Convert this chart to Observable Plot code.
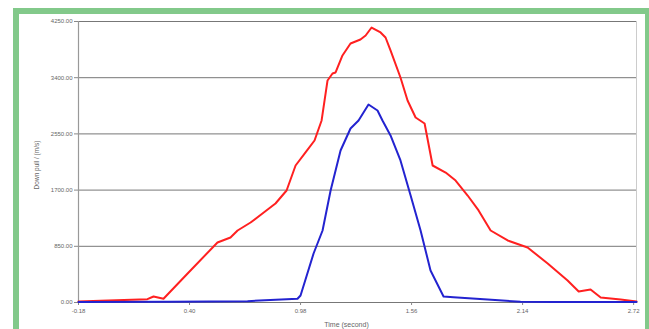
<!DOCTYPE html>
<html>
<head>
<meta charset="utf-8">
<script src="https://cdn.jsdelivr.net/npm/d3@7"></script>
<script src="https://cdn.jsdelivr.net/npm/@observablehq/plot@0.6"></script>
<style>
  html, body { margin: 0; padding: 0; background: #fff; }
  #wrap { position: relative; width: 649px; height: 329px; overflow: hidden; background: #fff; }
  #frame { position: absolute; left: 13px; top: 8px; width: 626px; height: 340px; border: 6px solid #82c98a; box-sizing: content-box; pointer-events: none; }
  #chart { position: absolute; left: 0; top: 0; }
</style>
</head>
<body>
<div id="wrap"><div id="chart"></div><div id="frame"></div></div>
<script>
const xTicks = [-0.18, 0.40, 0.98, 1.56, 2.14, 2.72];
const yTicks = [0, 850, 1700, 2550, 3400, 4250];

const redX = [-0.18,-0.065,0.18,0.212,0.264,0.39,0.546,0.614,0.651,0.719,0.781,0.849,0.907,0.954,1.006,1.053,1.090,1.121,1.147,1.163,1.199,1.241,1.293,1.320,1.351,1.398,1.424,1.450,1.502,1.539,1.581,1.628,1.670,1.738,1.790,1.853,1.910,1.973,2.062,2.166,2.271,2.375,2.433,2.495,2.548,2.652,2.735];
const redY = [15,25,50,91,56,439,908,983,1089,1210,1346,1497,1694,2072,2269,2450,2753,3358,3464,3479,3736,3917,3978,4038,4159,4084,4008,3812,3403,3055,2798,2707,2072,1966,1845,1618,1392,1089,938,832,590,333,166,197,76,45,15];

const blueX = [-0.18,0.30,0.703,0.964,0.980,1.048,1.095,1.137,1.189,1.241,1.283,1.335,1.382,1.408,1.450,1.502,1.555,1.607,1.659,1.727,1.779,1.957,2.129,2.302,2.735];
const blueY = [8,12,20,56,106,741,1089,1694,2299,2632,2753,2995,2904,2753,2526,2148,1618,1089,484,91,80,45,10,8,8];

const red = redX.map((x, i) => ({x, y: redY[i]}));
const blue = blueX.map((x, i) => ({x, y: blueY[i]}));

const chart = Plot.plot({
  width: 649,
  height: 329,
  marginLeft: 78,
  marginRight: 13,
  marginTop: 21,
  marginBottom: 27,
  style: { fontFamily: "Liberation Sans, Arial, sans-serif", fontSize: "6px", color: "#666", background: "transparent" },
  x: { domain: [-0.18, 2.735], ticks: xTicks, tickFormat: d => d.toFixed(2), tickSize: 3, label: null },
  y: { domain: [0, 4250], ticks: yTicks, tickFormat: d => d.toFixed(2), tickSize: 4, label: null },
  marks: [
    Plot.gridY(yTicks, { stroke: "#777", strokeOpacity: 1, strokeWidth: 1 }),
    Plot.ruleX([-0.18], { stroke: "#999", strokeWidth: 1.2 }),
    Plot.ruleX([2.735], { stroke: "#ccc", strokeWidth: 1 }),
    Plot.axisX({ ticks: xTicks, tickFormat: d => d.toFixed(2), tickSize: 3, fill: "#666", stroke: "#888", fontSize: 6, label: null, tickPadding: 3 }),
    Plot.axisY({ ticks: yTicks, tickFormat: d => d.toFixed(2), tickSize: 4, fill: "#666", stroke: "#888", fontSize: 6, label: null, tickPadding: 2 }),
    Plot.line(red, { x: "x", y: "y", stroke: "#ff2020", strokeWidth: 2 }),
    Plot.line(blue, { x: "x", y: "y", stroke: "#2323d0", strokeWidth: 2 }),
    Plot.text(["Time (second)"], { frameAnchor: "bottom", dy: 24, dx: -11, fontSize: 7, fill: "#666" }),
    Plot.text(["Down pull / (m/s)"], { frameAnchor: "left", textAnchor: "middle", dx: -42, dy: 3, rotate: -90, fontSize: 6.5, fill: "#666" })
  ]
});
document.getElementById("chart").appendChild(chart);
</script>
</body>
</html>
